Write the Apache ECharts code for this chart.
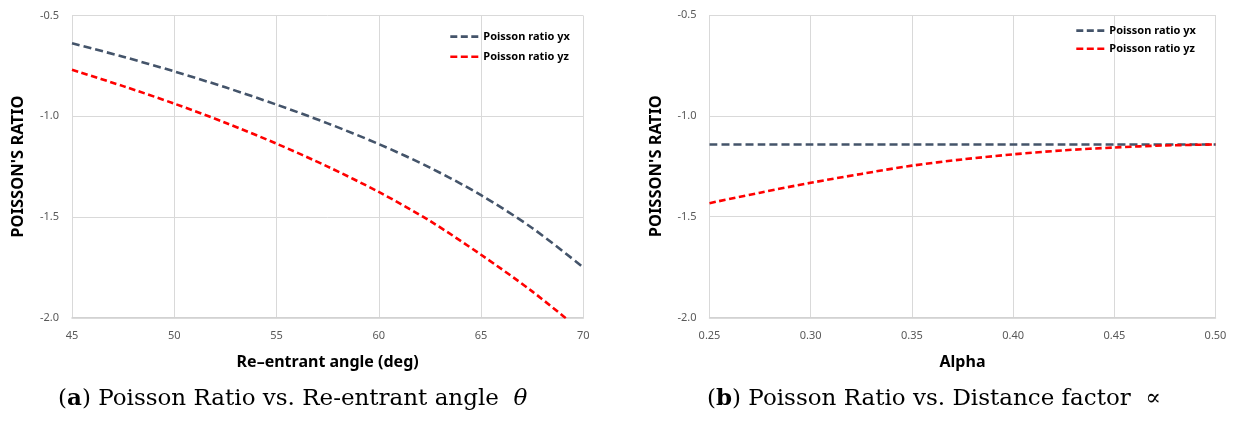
<!DOCTYPE html>
<html>
<head>
<meta charset="utf-8">
<script src="https://cdn.jsdelivr.net/npm/echarts@6/dist/echarts.min.js"></script>
<style>
  html, body { margin: 0; padding: 0; background: #fff; }
  #main { width: 1235px; height: 423px; }
</style>
</head>
<body>
<div id="main"></div>
<script>
// chart (a): re-entrant angle
var angle = [45, 47.5, 50, 52.5, 55, 57.5, 60, 62.5, 65, 67.5, 70];
var yxAngle = [-0.637, -0.704, -0.777, -0.856, -0.942, -1.035, -1.138, -1.255, -1.392, -1.555, -1.751];
var yzAngle = [-0.769, -0.850, -0.937, -1.032, -1.136, -1.250, -1.376, -1.520, -1.688, -1.870, -2.075];

// chart (b): distance factor alpha
var alpha = [0.25, 0.275, 0.30, 0.325, 0.35, 0.375, 0.40, 0.425, 0.45, 0.475, 0.50];
var yxAlpha = [-1.142, -1.142, -1.142, -1.142, -1.142, -1.142, -1.142, -1.142, -1.142, -1.142, -1.142];
var yzAlpha = [-1.433, -1.381, -1.332, -1.288, -1.247, -1.216, -1.191, -1.171, -1.157, -1.147, -1.142];

var seriesNames = ['Poisson ratio yx', 'Poisson ratio yz'];
var yTicks = { min: -2.0, max: -0.5, step: 0.5 };

function pairs(xs, ys) {
    return xs.map(function (x, i) { return [x, ys[i]]; });
}

var grey = '#44546a', red = '#ff0000';
var labelFont = 'Noto Sans, sans-serif';

function xAxis(idx, min, max, step, name, digits) {
    return {
        type: 'value', gridIndex: idx, min: min, max: max, interval: step,
        name: name, nameLocation: 'middle', nameGap: 37,
        nameTextStyle: { color: '#000', fontWeight: 'bold', fontSize: 16, fontFamily: labelFont },
        axisLine: { lineStyle: { color: '#d0d0d0', width: 1.5 } },
        axisTick: { show: false },
        axisLabel: { color: '#595959', fontSize: 11, margin: 13, fontFamily: labelFont,
            formatter: function (v) { return v.toFixed(digits); } },
        splitLine: { show: true, lineStyle: { color: '#d9d9d9', width: 1 } }
    };
}

function yAxis(idx) {
    return {
        type: 'value', gridIndex: idx, min: yTicks.min, max: yTicks.max, interval: yTicks.step,
        name: "POISSON'S RATIO", nameLocation: 'middle', nameGap: 45, nameRotate: 90,
        nameTextStyle: { color: '#000', fontWeight: 'bold', fontSize: 16.5, fontFamily: labelFont },
        axisLine: { show: false },
        axisTick: { show: false },
        axisLabel: { color: '#595959', fontSize: 11, margin: 13, fontFamily: labelFont,
            formatter: function (v) { return v.toFixed(1); } },
        splitLine: { show: true, lineStyle: { color: '#d9d9d9', width: 1 } }
    };
}

function line(name, idx, data, color, dash) {
    return {
        name: name, type: 'line', xAxisIndex: idx, yAxisIndex: idx,
        data: data, smooth: 0.3, symbol: 'none', clip: true,
        lineStyle: { color: color, width: 2.6, type: dash },
        itemStyle: { color: color }
    };
}

function legend(left, top, gap) {
    return {
        data: seriesNames, orient: 'vertical', left: left, top: top,
        itemWidth: 30, itemHeight: 14, itemGap: gap, selectedMode: false,
        itemStyle: { opacity: 0 },
        lineStyle: { width: 2.6, type: [7, 3.5] },
        textStyle: { color: '#000', fontWeight: 'bold', fontSize: 11, fontFamily: labelFont, padding: [0, 0, 0, -2] }
    };
}

var chart = echarts.init(document.getElementById('main'));
chart.setOption({
    animation: false,
    grid: [
        { left: 72, top: 15.7, width: 511.3, height: 301.8 },
        { left: 709.5, top: 15, width: 506, height: 302.5 }
    ],
    xAxis: [
        xAxis(0, 45, 70, 5, 'Re\u2013entrant angle (deg)', 0),
        xAxis(1, 0.25, 0.5, 0.05, 'Alpha', 2)
    ],
    yAxis: [yAxis(0), yAxis(1)],
    legend: [legend(444, 26, 9), legend(1070, 20, 7)],
    series: [
        line(seriesNames[0], 0, pairs(angle, yxAngle), grey, [8, 4]),
        line(seriesNames[1], 0, pairs(angle, yzAngle), red, [6.5, 3.5]),
        line(seriesNames[0], 1, pairs(alpha, yxAlpha), grey, [8, 4]),
        line(seriesNames[1], 1, pairs(alpha, yzAlpha), red, [6.5, 3.5])
    ],
    graphic: [
        {
            type: 'text', left: 58, top: 388,
            style: {
                text: '({b|a}) Poisson Ratio vs. Re-entrant angle  {i|\u03b8}',
                fill: '#000', font: '23px "DejaVu Serif", serif',
                rich: { b: { fontWeight: 'bold', fontSize: 23, fontFamily: 'DejaVu Serif' },
                        i: { fontStyle: 'italic', fontSize: 23, fontFamily: 'DejaVu Serif' } }
            }
        },
        {
            type: 'text', left: 707, top: 388,
            style: {
                text: '({b|b}) Poisson Ratio vs. Distance factor  \u221d',
                fill: '#000', font: '23px "DejaVu Serif", serif',
                rich: { b: { fontWeight: 'bold', fontSize: 23, fontFamily: 'DejaVu Serif' } }
            }
        }
    ]
});
</script>
</body>
</html>
